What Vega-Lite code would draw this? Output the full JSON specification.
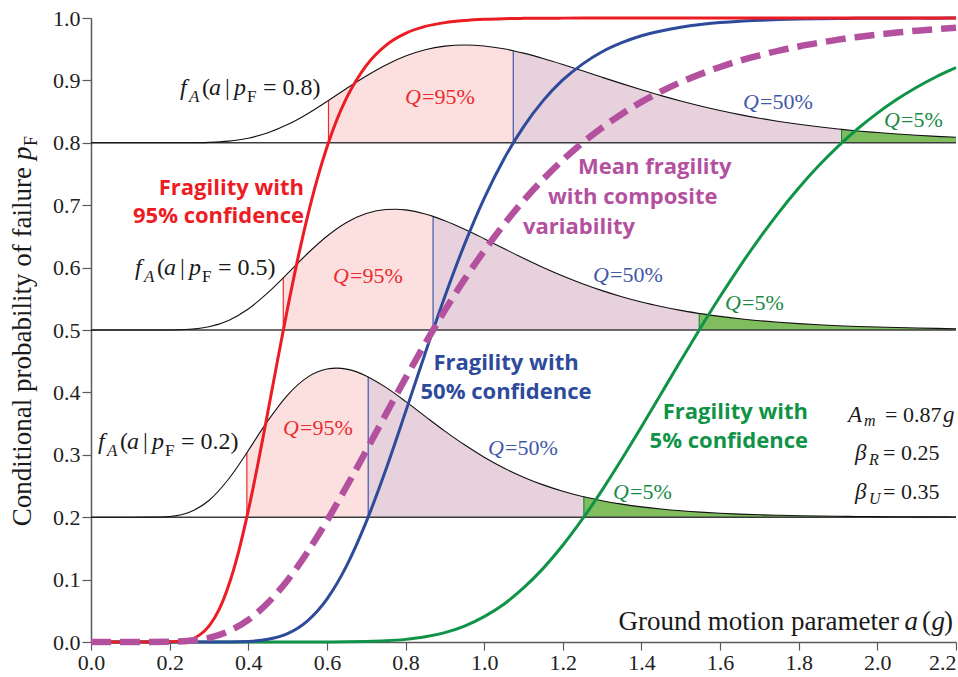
{
"$schema": "https://vega.github.io/schema/vega-lite/v6.json",
"width": 865, "height": 624,
"autosize": {"type": "none"},
"padding": {"left": 91, "top": 18, "right": 2, "bottom": 35},
"background": "white",
"config": {
  "view": {"stroke": null},
  "axis": {"domainColor": "#5a5a5a", "domainWidth": 1.5, "tickColor": "#5a5a5a", "tickWidth": 1.2, "tickSize": 8, "labelFont": "Liberation Serif", "labelFontSize": 22, "labelColor": "#222222", "grid": false, "labelFlush": false, "labelOverlap": false}
},
"datasets": {
  "frag": [
    {"a":0,"r":0,"b":0,"g":0,"m":0},
    {"a":0.05,"r":0,"b":0,"g":0,"m":0},
    {"a":0.1,"r":0,"b":0,"g":0,"m":0},
    {"a":0.15,"r":0,"b":0,"g":0,"m":0},
    {"a":0.2,"r":0.0002,"b":0,"g":0,"m":0.0003},
    {"a":0.25,"r":0.0036,"b":0,"g":0,"m":0.0019},
    {"a":0.275,"r":0.0106},
    {"a":0.3,"r":0.0254,"b":0,"g":0,"m":0.0067},
    {"a":0.325,"r":0.051},
    {"a":0.35,"r":0.0906,"b":0.0001,"g":0,"m":0.0172},
    {"a":0.375,"r":0.1438},
    {"a":0.4,"r":0.2105,"b":0.0009,"g":0,"m":0.0354},
    {"a":0.425,"r":0.2868},
    {"a":0.45,"r":0.3693,"b":0.0043,"g":0,"m":0.0629},
    {"a":0.475,"r":0.4532},
    {"a":0.5,"r":0.5349,"b":0.0134,"g":0,"m":0.0991},
    {"a":0.525,"r":0.6112},
    {"a":0.55,"r":0.6802,"b":0.0335,"g":0,"m":0.1435},
    {"a":0.575,"r":0.741},
    {"a":0.6,"r":0.7928,"b":0.0688,"g":0.0001,"m":0.1942},
    {"a":0.625,"r":0.8365},
    {"a":0.65,"r":0.8719,"b":0.1221,"g":0.0003,"m":0.2492},
    {"a":0.7,"r":0.9238,"b":0.1925,"g":0.0008,"m":0.3066},
    {"a":0.75,"r":0.9562,"b":0.2764,"g":0.0019,"m":0.3652},
    {"a":0.8,"r":0.9753,"b":0.3688,"g":0.0042,"m":0.4228},
    {"a":0.85,"r":0.9865,"b":0.4629,"g":0.0083,"m":0.4785},
    {"a":0.9,"r":0.9926,"b":0.5538,"g":0.0151,"m":0.5314},
    {"a":0.95,"r":0.996,"b":0.6373,"g":0.0256,"m":0.5811},
    {"a":1.0,"r":0.9979,"b":0.711,"g":0.0407,"m":0.6268},
    {"a":1.05,"r":0.9989,"b":0.7737,"g":0.0606,"m":0.6689},
    {"a":1.1,"r":0.9994,"b":0.8256,"g":0.0866,"m":0.7071},
    {"a":1.15,"r":0.9997,"b":0.8676,"g":0.118,"m":0.7415},
    {"a":1.2,"r":0.9998,"b":0.9007,"g":0.155,"m":0.7724},
    {"a":1.25,"r":0.9999,"b":0.9261,"g":0.1972,"m":0.8},
    {"a":1.3,"r":1,"b":0.9459,"g":0.2434,"m":0.8245},
    {"a":1.35,"r":1,"b":0.9604,"g":0.2932,"m":0.8463},
    {"a":1.4,"r":1,"b":0.9715,"g":0.3449,"m":0.8656},
    {"a":1.45,"r":1,"b":0.9793,"g":0.398,"m":0.8824},
    {"a":1.5,"r":1,"b":0.9853,"g":0.451,"m":0.8971},
    {"a":1.55,"r":1,"b":0.9896,"g":0.5032,"m":0.9101},
    {"a":1.6,"r":1,"b":0.9926,"g":0.5536,"m":0.9215},
    {"a":1.65,"r":1,"b":0.9948,"g":0.6017,"m":0.9316},
    {"a":1.7,"r":1,"b":0.9963,"g":0.6469,"m":0.9401},
    {"a":1.75,"r":1,"b":0.9974,"g":0.689,"m":0.9478},
    {"a":1.8,"r":1,"b":0.9982,"g":0.7276,"m":0.9544},
    {"a":1.85,"r":1,"b":0.9987,"g":0.7627,"m":0.9601},
    {"a":1.9,"r":1,"b":0.9991,"g":0.7943,"m":0.9653},
    {"a":1.95,"r":1,"b":0.9994,"g":0.8225,"m":0.9696},
    {"a":2.0,"r":1,"b":0.9996,"g":0.8476,"m":0.9734},
    {"a":2.05,"r":1,"b":0.9997,"g":0.8697,"m":0.9768},
    {"a":2.1,"r":1,"b":0.9998,"g":0.889,"m":0.9796},
    {"a":2.15,"r":1,"b":0.9998,"g":0.9059,"m":0.9822},
    {"a":2.2,"r":1,"b":0.9999,"g":0.9204,"m":0.9844}
  ],
  "pdf": [
    {"pf":0.8,"a":0,"y":0.8},{"pf":0.8,"a":0.2,"y":0.8},{"pf":0.8,"a":0.25,"y":0.8001},{"pf":0.8,"a":0.3,"y":0.8007},
    {"pf":0.8,"a":0.35,"y":0.8027},{"pf":0.8,"a":0.4,"y":0.8074},{"pf":0.8,"a":0.45,"y":0.8161},{"pf":0.8,"a":0.5,"y":0.8292},
    {"pf":0.8,"a":0.55,"y":0.8463},{"pf":0.8,"a":0.6,"y":0.8662},{"pf":0.8,"a":0.604,"y":0.8679},{"pf":0.8,"a":0.65,"y":0.8871},
    {"pf":0.8,"a":0.7,"y":0.9071},{"pf":0.8,"a":0.75,"y":0.9248},{"pf":0.8,"a":0.8,"y":0.939},{"pf":0.8,"a":0.85,"y":0.9491},
    {"pf":0.8,"a":0.9,"y":0.9549},{"pf":0.8,"a":0.95,"y":0.9568},{"pf":0.8,"a":1.0,"y":0.9552},{"pf":0.8,"a":1.05,"y":0.9506},
    {"pf":0.8,"a":1.074,"y":0.9475},{"pf":0.8,"a":1.1,"y":0.9437},{"pf":0.8,"a":1.15,"y":0.9352},{"pf":0.8,"a":1.2,"y":0.9256},
    {"pf":0.8,"a":1.25,"y":0.9154},{"pf":0.8,"a":1.3,"y":0.905},{"pf":0.8,"a":1.35,"y":0.8948},{"pf":0.8,"a":1.4,"y":0.885},
    {"pf":0.8,"a":1.45,"y":0.8756},{"pf":0.8,"a":1.5,"y":0.867},{"pf":0.8,"a":1.55,"y":0.859},{"pf":0.8,"a":1.6,"y":0.8518},
    {"pf":0.8,"a":1.65,"y":0.8452},{"pf":0.8,"a":1.7,"y":0.8394},{"pf":0.8,"a":1.75,"y":0.8342},{"pf":0.8,"a":1.8,"y":0.8296},
    {"pf":0.8,"a":1.85,"y":0.8256},{"pf":0.8,"a":1.9,"y":0.8221},{"pf":0.8,"a":1.909,"y":0.8215},{"pf":0.8,"a":1.95,"y":0.819},
    {"pf":0.8,"a":2.0,"y":0.8164},{"pf":0.8,"a":2.05,"y":0.814},{"pf":0.8,"a":2.1,"y":0.812},{"pf":0.8,"a":2.15,"y":0.8103},
    {"pf":0.8,"a":2.2,"y":0.8088},
    {"pf":0.5,"a":0,"y":0.5},{"pf":0.5,"a":0.15,"y":0.5},{"pf":0.5,"a":0.2,"y":0.5001},{"pf":0.5,"a":0.25,"y":0.5011},
    {"pf":0.5,"a":0.3,"y":0.5052},{"pf":0.5,"a":0.35,"y":0.5154},{"pf":0.5,"a":0.4,"y":0.5337},{"pf":0.5,"a":0.45,"y":0.5598},
    {"pf":0.5,"a":0.489,"y":0.5836},{"pf":0.5,"a":0.5,"y":0.5906},{"pf":0.5,"a":0.55,"y":0.6222},{"pf":0.5,"a":0.6,"y":0.6503},
    {"pf":0.5,"a":0.65,"y":0.6724},{"pf":0.5,"a":0.7,"y":0.6866},{"pf":0.5,"a":0.75,"y":0.6931},{"pf":0.5,"a":0.775,"y":0.6936},
    {"pf":0.5,"a":0.8,"y":0.6925},{"pf":0.5,"a":0.85,"y":0.686},{"pf":0.5,"a":0.87,"y":0.6821},{"pf":0.5,"a":0.9,"y":0.6752},
    {"pf":0.5,"a":0.95,"y":0.6616},{"pf":0.5,"a":1.0,"y":0.6464},{"pf":0.5,"a":1.05,"y":0.6306},{"pf":0.5,"a":1.1,"y":0.615},
    {"pf":0.5,"a":1.15,"y":0.6003},{"pf":0.5,"a":1.2,"y":0.5866},{"pf":0.5,"a":1.25,"y":0.5742},{"pf":0.5,"a":1.3,"y":0.5631},
    {"pf":0.5,"a":1.35,"y":0.5534},{"pf":0.5,"a":1.4,"y":0.5449},{"pf":0.5,"a":1.45,"y":0.5377},{"pf":0.5,"a":1.5,"y":0.5314},
    {"pf":0.5,"a":1.547,"y":0.5265},{"pf":0.5,"a":1.55,"y":0.5262},{"pf":0.5,"a":1.6,"y":0.5218},{"pf":0.5,"a":1.65,"y":0.518},
    {"pf":0.5,"a":1.7,"y":0.5149},{"pf":0.5,"a":1.75,"y":0.5123},{"pf":0.5,"a":1.8,"y":0.5102},{"pf":0.5,"a":1.85,"y":0.5084},
    {"pf":0.5,"a":1.9,"y":0.5069},{"pf":0.5,"a":1.95,"y":0.5057},{"pf":0.5,"a":2.0,"y":0.5047},{"pf":0.5,"a":2.05,"y":0.5039},
    {"pf":0.5,"a":2.1,"y":0.5032},{"pf":0.5,"a":2.15,"y":0.5026},{"pf":0.5,"a":2.2,"y":0.5021},
    {"pf":0.2,"a":0,"y":0.2},{"pf":0.2,"a":0.1,"y":0.2},{"pf":0.2,"a":0.15,"y":0.2001},{"pf":0.2,"a":0.2,"y":0.2012},
    {"pf":0.2,"a":0.25,"y":0.2079},{"pf":0.2,"a":0.3,"y":0.2268},{"pf":0.2,"a":0.35,"y":0.2612},{"pf":0.2,"a":0.3964,"y":0.3033},
    {"pf":0.2,"a":0.4,"y":0.3068},{"pf":0.2,"a":0.45,"y":0.3547},{"pf":0.2,"a":0.5,"y":0.3958},{"pf":0.2,"a":0.55,"y":0.4241},
    {"pf":0.2,"a":0.6,"y":0.4375},{"pf":0.2,"a":0.625,"y":0.4389},{"pf":0.2,"a":0.65,"y":0.4373},{"pf":0.2,"a":0.7,"y":0.4263},
    {"pf":0.2,"a":0.705,"y":0.4247},{"pf":0.2,"a":0.75,"y":0.408},{"pf":0.2,"a":0.8,"y":0.3856},{"pf":0.2,"a":0.85,"y":0.3616},
    {"pf":0.2,"a":0.9,"y":0.338},{"pf":0.2,"a":0.95,"y":0.316},{"pf":0.2,"a":1.0,"y":0.2962},{"pf":0.2,"a":1.05,"y":0.2789},
    {"pf":0.2,"a":1.1,"y":0.2642},{"pf":0.2,"a":1.15,"y":0.2518},{"pf":0.2,"a":1.2,"y":0.2416},{"pf":0.2,"a":1.25,"y":0.2332},
    {"pf":0.2,"a":1.2535,"y":0.2327},{"pf":0.2,"a":1.3,"y":0.2264},{"pf":0.2,"a":1.35,"y":0.221},{"pf":0.2,"a":1.4,"y":0.2166},
    {"pf":0.2,"a":1.45,"y":0.2131},{"pf":0.2,"a":1.5,"y":0.2103},{"pf":0.2,"a":1.55,"y":0.2081},{"pf":0.2,"a":1.6,"y":0.2064},
    {"pf":0.2,"a":1.65,"y":0.205},{"pf":0.2,"a":1.7,"y":0.2039},{"pf":0.2,"a":1.75,"y":0.2031},{"pf":0.2,"a":1.8,"y":0.2024},
    {"pf":0.2,"a":1.85,"y":0.2019},{"pf":0.2,"a":1.9,"y":0.2015},{"pf":0.2,"a":1.95,"y":0.2012},{"pf":0.2,"a":2.0,"y":0.2009},
    {"pf":0.2,"a":2.05,"y":0.2007},{"pf":0.2,"a":2.1,"y":0.2006},{"pf":0.2,"a":2.15,"y":0.2005},{"pf":0.2,"a":2.2,"y":0.2004}
  ],
  "base": [{"pf":0.2},{"pf":0.5},{"pf":0.8}],
  "bounds": [
    {"pf":0.8,"c":"r","a":0.604,"top":0.8679},{"pf":0.8,"c":"b","a":1.074,"top":0.9475},{"pf":0.8,"c":"g","a":1.909,"top":0.8215},
    {"pf":0.5,"c":"r","a":0.489,"top":0.5836},{"pf":0.5,"c":"b","a":0.87,"top":0.6821},{"pf":0.5,"c":"g","a":1.547,"top":0.5265},
    {"pf":0.2,"c":"r","a":0.3964,"top":0.3033},{"pf":0.2,"c":"b","a":0.705,"top":0.4247},{"pf":0.2,"c":"g","a":1.2535,"top":0.2327}
  ],
  "ql": [
    {"x":0.7986,"y":0.8734,"t":"=95%","c":"r"},{"x":1.6583,"y":0.8654,"t":"=50%","c":"b"},{"x":2.0169,"y":0.8366,"t":"=5%","c":"g"},
    {"x":0.6155,"y":0.5865,"t":"=95%","c":"r"},{"x":1.2768,"y":0.5882,"t":"=50%","c":"b"},{"x":1.6125,"y":0.5433,"t":"=5%","c":"g"},
    {"x":0.4883,"y":0.343,"t":"=95%","c":"r"},{"x":1.0097,"y":0.3109,"t":"=50%","c":"b"},{"x":1.3277,"y":0.2404,"t":"=5%","c":"g"}
  ],
  "fl": [
    {"x":0.2264,"y":0.8878,"t":"= 0.8)"},{"x":0.1119,"y":0.5994,"t":"= 0.5)"},{"x":0.0178,"y":0.3205,"t":"= 0.2)"}
  ],
  "redlab": [{"x":0.5417,"y":0.7276,"t":"Fragility with"},{"x":0.5417,"y":0.6827,"t":"95% confidence"}],
  "bluelab": [{"x":1.0555,"y":0.4471,"t":"Fragility with"},{"x":1.0555,"y":0.4006,"t":"50% confidence"}],
  "greenlab": [{"x":1.8236,"y":0.3686,"t":"Fragility with"},{"x":1.8236,"y":0.3221,"t":"5% confidence"}],
  "maglab": [{"x":1.2386,"y":0.7612,"t":"Mean fragility"},{"x":1.1623,"y":0.7132,"t":"with composite"},{"x":1.0988,"y":0.6651,"t":"variability"}],
  "am": [{"x":1.9254,"y":0.3638}],
  "bp": [{"x":1.9432,"y":0.3029,"s":"R","t":"= 0.25"},{"x":1.9432,"y":0.2404,"s":"U","t":"= 0.35"}],
  "xt": [{"x":2.1924,"y":0.0321}],
  "yt": [{"x":-0.1526,"y":0.7612}]
},
"layer": [
  {"data":{"name":"pdf"},
   "transform":[{"filter":"(datum.pf==0.8&&datum.a>=0.604)||(datum.pf==0.5&&datum.a>=0.489)||(datum.pf==0.2&&datum.a>=0.3964)"}],
   "mark":{"type":"area","interpolate":"monotone","color":"#f07070","opacity":0.22},
   "encoding":{
     "x":{"field":"a","type":"quantitative","title":null,"scale":{"domain":[0,2.2],"nice":false,"zero":false},
          "axis":{"title":null,"values":[0,0.1,0.2,0.3,0.4,0.5,0.6,0.7,0.8,0.9,1.0,1.1,1.2,1.3,1.4,1.5,1.6,1.7,1.8,1.9,2.0,2.1,2.2],
                  "labelExpr":"abs(round(datum.value*10))%2==0 ? format(datum.value,'.1f') : ''","labelPadding":2,
                  "labelAlign":{"condition":{"test":"datum.value > 2.15","value":"right"},"value":"center"}}},
     "y":{"field":"y","type":"quantitative","title":null,"scale":{"domain":[0,1],"nice":false,"zero":false},
          "axis":{"title":null,"values":[0,0.1,0.2,0.3,0.4,0.5,0.6,0.7,0.8,0.9,1.0],"format":".1f","tickSize":9,"labelPadding":2}},
     "y2":{"field":"pf"},
     "detail":{"field":"pf","type":"nominal"}}},
  {"data":{"name":"pdf"},
   "transform":[{"filter":"(datum.pf==0.8&&datum.a>=1.074)||(datum.pf==0.5&&datum.a>=0.87)||(datum.pf==0.2&&datum.a>=0.705)"}],
   "mark":{"type":"area","interpolate":"monotone","color":"#6a7fd0","opacity":0.15},
   "encoding":{"x":{"field":"a","type":"quantitative","title":null},"y":{"field":"y","type":"quantitative","title":null},"y2":{"field":"pf"},"detail":{"field":"pf","type":"nominal"}}},
  {"data":{"name":"pdf"},
   "transform":[{"filter":"(datum.pf==0.8&&datum.a>=1.909)||(datum.pf==0.5&&datum.a>=1.547)||(datum.pf==0.2&&datum.a>=1.2535)"}],
   "mark":{"type":"area","interpolate":"monotone","color":"#7fbd5e","opacity":1},
   "encoding":{"x":{"field":"a","type":"quantitative","title":null},"y":{"field":"y","type":"quantitative","title":null},"y2":{"field":"pf"},"detail":{"field":"pf","type":"nominal"}}},
  {"data":{"name":"base"},
   "mark":{"type":"rule","color":"#3c3c3c","strokeWidth":1.4},
   "encoding":{"y":{"field":"pf","type":"quantitative","title":null}}},
  {"data":{"name":"bounds"},
   "mark":{"type":"rule","strokeWidth":1.2},
   "encoding":{"x":{"field":"a","type":"quantitative","title":null},"y":{"field":"pf","type":"quantitative","title":null},"y2":{"field":"top"},
     "color":{"field":"c","type":"nominal","scale":{"domain":["r","b","g"],"range":["#ec2a2f","#3f58aa","#1a8a45"]},"legend":null}}},
  {"data":{"name":"pdf"},
   "mark":{"type":"line","interpolate":"monotone","color":"#111111","strokeWidth":1.1},
   "encoding":{"x":{"field":"a","type":"quantitative","title":null},"y":{"field":"y","type":"quantitative","title":null},"detail":{"field":"pf","type":"nominal"}}},
  {"data":{"name":"frag"},"transform":[{"filter":"isValid(datum.g)"}],
   "mark":{"type":"line","interpolate":"monotone","color":"#0f9447","strokeWidth":3},
   "encoding":{"x":{"field":"a","type":"quantitative","title":null},"y":{"field":"g","type":"quantitative","title":null}}},
  {"data":{"name":"frag"},"transform":[{"filter":"isValid(datum.b)"}],
   "mark":{"type":"line","interpolate":"monotone","color":"#2e4b9b","strokeWidth":3},
   "encoding":{"x":{"field":"a","type":"quantitative","title":null},"y":{"field":"b","type":"quantitative","title":null}}},
  {"data":{"name":"frag"},"transform":[{"filter":"isValid(datum.r)"}],
   "mark":{"type":"line","interpolate":"monotone","color":"#ed1c24","strokeWidth":3},
   "encoding":{"x":{"field":"a","type":"quantitative","title":null},"y":{"field":"r","type":"quantitative","title":null}}},
  {"data":{"name":"frag"},"transform":[{"filter":"isValid(datum.m)"}],
   "mark":{"type":"line","interpolate":"monotone","color":"#b4519f","strokeWidth":6.5,"strokeDash":[20,9]},
   "encoding":{"x":{"field":"a","type":"quantitative","title":null},"y":{"field":"m","type":"quantitative","title":null}}},
  {"data":{"name":"ql"},
   "mark":{"type":"text","align":"left","baseline":"middle","font":"Liberation Serif","fontStyle":"italic","fontSize":22},
   "encoding":{"x":{"field":"x","type":"quantitative","title":null},"y":{"field":"y","type":"quantitative","title":null},"text":{"value":"Q"},
     "color":{"field":"c","type":"nominal","scale":{"domain":["r","b","g"],"range":["#ec2a2f","#3f58aa","#1a8a45"]},"legend":null}}},
  {"data":{"name":"ql"},
   "mark":{"type":"text","align":"left","baseline":"middle","font":"Liberation Serif","fontSize":22,"dx":17},
   "encoding":{"x":{"field":"x","type":"quantitative","title":null},"y":{"field":"y","type":"quantitative","title":null},"text":{"field":"t"},
     "color":{"field":"c","type":"nominal","scale":{"domain":["r","b","g"],"range":["#ec2a2f","#3f58aa","#1a8a45"]},"legend":null}}},
  {"data":{"name":"fl"},"mark":{"type":"text","align":"left","baseline":"middle","font":"Liberation Serif","fontStyle":"italic","fontSize":24,"color":"#1a1a1a"},
   "encoding":{"x":{"field":"x","type":"quantitative","title":null},"y":{"field":"y","type":"quantitative","title":null},"text":{"value":"f"}}},
  {"data":{"name":"fl"},"mark":{"type":"text","align":"left","baseline":"middle","font":"Liberation Serif","fontStyle":"italic","fontSize":17,"color":"#1a1a1a","dx":9,"dy":9},
   "encoding":{"x":{"field":"x","type":"quantitative","title":null},"y":{"field":"y","type":"quantitative","title":null},"text":{"value":"A"}}},
  {"data":{"name":"fl"},"mark":{"type":"text","align":"left","baseline":"middle","font":"Liberation Serif","fontSize":24,"color":"#1a1a1a","dx":22},
   "encoding":{"x":{"field":"x","type":"quantitative","title":null},"y":{"field":"y","type":"quantitative","title":null},"text":{"value":"("}}},
  {"data":{"name":"fl"},"mark":{"type":"text","align":"left","baseline":"middle","font":"Liberation Serif","fontStyle":"italic","fontSize":24,"color":"#1a1a1a","dx":29},
   "encoding":{"x":{"field":"x","type":"quantitative","title":null},"y":{"field":"y","type":"quantitative","title":null},"text":{"value":"a"}}},
  {"data":{"name":"fl"},"mark":{"type":"text","align":"left","baseline":"middle","font":"Liberation Serif","fontSize":24,"color":"#1a1a1a","dx":45},
   "encoding":{"x":{"field":"x","type":"quantitative","title":null},"y":{"field":"y","type":"quantitative","title":null},"text":{"value":"|"}}},
  {"data":{"name":"fl"},"mark":{"type":"text","align":"left","baseline":"middle","font":"Liberation Serif","fontStyle":"italic","fontSize":24,"color":"#1a1a1a","dx":54},
   "encoding":{"x":{"field":"x","type":"quantitative","title":null},"y":{"field":"y","type":"quantitative","title":null},"text":{"value":"p"}}},
  {"data":{"name":"fl"},"mark":{"type":"text","align":"left","baseline":"middle","font":"Liberation Serif","fontSize":17,"color":"#1a1a1a","dx":67,"dy":9},
   "encoding":{"x":{"field":"x","type":"quantitative","title":null},"y":{"field":"y","type":"quantitative","title":null},"text":{"value":"F"}}},
  {"data":{"name":"fl"},"mark":{"type":"text","align":"left","baseline":"middle","font":"Liberation Serif","fontSize":24,"color":"#1a1a1a","dx":83},
   "encoding":{"x":{"field":"x","type":"quantitative","title":null},"y":{"field":"y","type":"quantitative","title":null},"text":{"field":"t"}}},
  {"data":{"name":"redlab"},"mark":{"type":"text","align":"right","baseline":"middle","font":"Open Sans","fontWeight":"bold","fontSize":22,"color":"#ed1c24"},
   "encoding":{"x":{"field":"x","type":"quantitative","title":null},"y":{"field":"y","type":"quantitative","title":null},"text":{"field":"t"}}},
  {"data":{"name":"bluelab"},"mark":{"type":"text","align":"center","baseline":"middle","font":"Open Sans","fontWeight":"bold","fontSize":22,"color":"#2e4b9b"},
   "encoding":{"x":{"field":"x","type":"quantitative","title":null},"y":{"field":"y","type":"quantitative","title":null},"text":{"field":"t"}}},
  {"data":{"name":"greenlab"},"mark":{"type":"text","align":"right","baseline":"middle","font":"Open Sans","fontWeight":"bold","fontSize":22,"color":"#0f9447"},
   "encoding":{"x":{"field":"x","type":"quantitative","title":null},"y":{"field":"y","type":"quantitative","title":null},"text":{"field":"t"}}},
  {"data":{"name":"maglab"},"mark":{"type":"text","align":"left","baseline":"middle","font":"Open Sans","fontWeight":"bold","fontSize":22,"color":"#b4519f"},
   "encoding":{"x":{"field":"x","type":"quantitative","title":null},"y":{"field":"y","type":"quantitative","title":null},"text":{"field":"t"}}},
  {"data":{"name":"am"},"mark":{"type":"text","align":"left","baseline":"middle","font":"Liberation Serif","fontStyle":"italic","fontSize":23,"color":"#1a1a1a"},
   "encoding":{"x":{"field":"x","type":"quantitative","title":null},"y":{"field":"y","type":"quantitative","title":null},"text":{"value":"A"}}},
  {"data":{"name":"am"},"mark":{"type":"text","align":"left","baseline":"middle","font":"Liberation Serif","fontStyle":"italic","fontSize":16,"color":"#1a1a1a","dx":16,"dy":6},
   "encoding":{"x":{"field":"x","type":"quantitative","title":null},"y":{"field":"y","type":"quantitative","title":null},"text":{"value":"m"}}},
  {"data":{"name":"am"},"mark":{"type":"text","align":"left","baseline":"middle","font":"Liberation Serif","fontSize":22,"color":"#1a1a1a","dx":37},
   "encoding":{"x":{"field":"x","type":"quantitative","title":null},"y":{"field":"y","type":"quantitative","title":null},"text":{"value":"= 0.87"}}},
  {"data":{"name":"am"},"mark":{"type":"text","align":"left","baseline":"middle","font":"Liberation Serif","fontStyle":"italic","fontSize":23,"color":"#1a1a1a","dx":95},
   "encoding":{"x":{"field":"x","type":"quantitative","title":null},"y":{"field":"y","type":"quantitative","title":null},"text":{"value":"g"}}},
  {"data":{"name":"bp"},"mark":{"type":"text","align":"left","baseline":"middle","font":"Liberation Serif","fontStyle":"italic","fontSize":23,"color":"#1a1a1a"},
   "encoding":{"x":{"field":"x","type":"quantitative","title":null},"y":{"field":"y","type":"quantitative","title":null},"text":{"value":"β"}}},
  {"data":{"name":"bp"},"mark":{"type":"text","align":"left","baseline":"middle","font":"Liberation Serif","fontStyle":"italic","fontSize":16,"color":"#1a1a1a","dx":14,"dy":7},
   "encoding":{"x":{"field":"x","type":"quantitative","title":null},"y":{"field":"y","type":"quantitative","title":null},"text":{"field":"s"}}},
  {"data":{"name":"bp"},"mark":{"type":"text","align":"left","baseline":"middle","font":"Liberation Serif","fontSize":22,"color":"#1a1a1a","dx":28},
   "encoding":{"x":{"field":"x","type":"quantitative","title":null},"y":{"field":"y","type":"quantitative","title":null},"text":{"field":"t"}}},
  {"data":{"name":"xt"},"mark":{"type":"text","align":"right","baseline":"middle","font":"Liberation Serif","fontSize":27,"color":"#1a1a1a"},
   "encoding":{"x":{"field":"x","type":"quantitative","title":null},"y":{"field":"y","type":"quantitative","title":null},"text":{"value":")"}}},
  {"data":{"name":"xt"},"mark":{"type":"text","align":"right","baseline":"middle","font":"Liberation Serif","fontStyle":"italic","fontSize":27,"color":"#1a1a1a","dx":-8},
   "encoding":{"x":{"field":"x","type":"quantitative","title":null},"y":{"field":"y","type":"quantitative","title":null},"text":{"value":"g"}}},
  {"data":{"name":"xt"},"mark":{"type":"text","align":"right","baseline":"middle","font":"Liberation Serif","fontSize":27,"color":"#1a1a1a","dx":-22},
   "encoding":{"x":{"field":"x","type":"quantitative","title":null},"y":{"field":"y","type":"quantitative","title":null},"text":{"value":"("}}},
  {"data":{"name":"xt"},"mark":{"type":"text","align":"right","baseline":"middle","font":"Liberation Serif","fontStyle":"italic","fontSize":27,"color":"#1a1a1a","dx":-35},
   "encoding":{"x":{"field":"x","type":"quantitative","title":null},"y":{"field":"y","type":"quantitative","title":null},"text":{"value":"a"}}},
  {"data":{"name":"xt"},"mark":{"type":"text","align":"right","baseline":"middle","font":"Liberation Serif","fontSize":27,"color":"#1a1a1a","dx":-54},
   "encoding":{"x":{"field":"x","type":"quantitative","title":null},"y":{"field":"y","type":"quantitative","title":null},"text":{"value":"Ground motion parameter"}}},
  {"data":{"name":"yt"},"mark":{"type":"text","align":"right","baseline":"alphabetic","angle":270,"font":"Liberation Serif","fontSize":27,"color":"#1a1a1a"},
   "encoding":{"x":{"field":"x","type":"quantitative","title":null},"y":{"field":"y","type":"quantitative","title":null},"text":{"value":"Conditional probability of failure"}}},
  {"data":{"name":"yt"},"mark":{"type":"text","align":"left","baseline":"alphabetic","angle":270,"font":"Liberation Serif","fontStyle":"italic","fontSize":27,"color":"#1a1a1a","dx":7},
   "encoding":{"x":{"field":"x","type":"quantitative","title":null},"y":{"field":"y","type":"quantitative","title":null},"text":{"value":"p"}}},
  {"data":{"name":"yt"},"mark":{"type":"text","align":"left","baseline":"alphabetic","angle":270,"font":"Liberation Serif","fontSize":18,"color":"#1a1a1a","dx":21,"dy":6},
   "encoding":{"x":{"field":"x","type":"quantitative","title":null},"y":{"field":"y","type":"quantitative","title":null},"text":{"value":"F"}}}
]
}
